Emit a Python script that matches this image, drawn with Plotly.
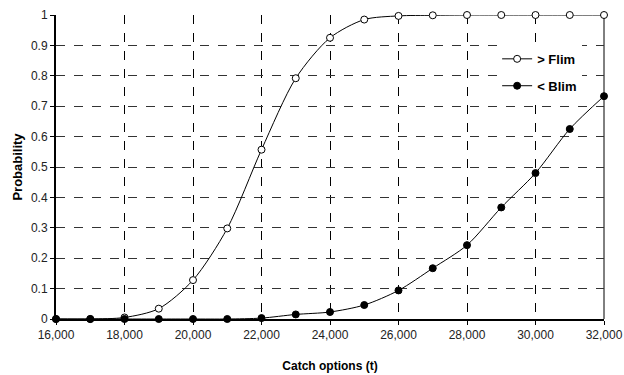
import plotly.graph_objects as go

catch = [16000, 17000, 18000, 19000, 20000, 21000, 22000, 23000, 24000,
         25000, 26000, 27000, 28000, 29000, 30000, 31000, 32000]
p_flim = [0.0, 0.0, 0.005, 0.034, 0.128, 0.298, 0.557, 0.792, 0.925,
          0.985, 0.997, 0.999, 1.0, 1.0, 1.0, 1.0, 1.0]
p_blim = [0.0, 0.0, 0.0, 0.0, 0.0, 0.0, 0.003, 0.015, 0.023,
          0.046, 0.094, 0.167, 0.243, 0.367, 0.48, 0.625, 0.733]

x_ticks = list(range(16000, 32001, 2000))
y_ticks = [0, 0.1, 0.2, 0.3, 0.4, 0.5, 0.6, 0.7, 0.8, 0.9, 1]
y_labels = ["0", "0.1", "0.2", "0.3", "0.4", "0.5", "0.6", "0.7", "0.8", "0.9", "1"]

FONT = "Liberation Sans, Arial, sans-serif"

fig = go.Figure()
fig.add_trace(go.Scatter(
    x=catch, y=p_flim, name="> Flim", mode="lines+markers", legendgroup="a",
    line=dict(color="black", width=1, shape="spline", smoothing=0.8),
    marker=dict(symbol="circle", size=7, color="white",
                line=dict(color="black", width=1)),
    cliponaxis=False,
))
fig.add_trace(go.Scatter(
    x=catch, y=p_blim, name="< Blim", mode="lines+markers", legendgroup="b",
    line=dict(color="black", width=1, shape="spline", smoothing=0.8),
    marker=dict(symbol="circle", size=7, color="black",
                line=dict(color="black", width=1)),
    cliponaxis=False,
))

fig.update_layout(
    width=624, height=375,
    margin=dict(l=56, r=20, t=15, b=56),
    paper_bgcolor="white", plot_bgcolor="white",
    font=dict(family=FONT, size=12, color="#222"),
    showlegend=True,
    legend=dict(x=0.805, y=0.905, xanchor="left", yanchor="top",
                bgcolor="white", borderwidth=0, traceorder="grouped",
                font=dict(size=13, color="black", family=FONT, weight="bold"),
                tracegroupgap=7, itemwidth=30),
    shapes=[dict(type="line", xref="paper", yref="paper", x0=1, x1=1, y0=0, y1=1,
                 line=dict(color="black", width=1), layer="below")],
)
fig.update_xaxes(
    range=[16000, 32000], tickvals=x_ticks, tickformat=",",
    showgrid=True, gridcolor="black", griddash="dash", gridwidth=1,
    showline=True, linecolor="black", linewidth=2,
    ticks="outside", ticklen=4, tickcolor="black",
    zeroline=False, automargin=False, ticklabeloverflow="allow",
    title=dict(text="<b>Catch options (t)</b>", font=dict(size=12, color="black"), standoff=20),
)
fig.update_yaxes(
    range=[0, 1], tickvals=y_ticks, ticktext=y_labels,
    showgrid=True, gridcolor="#333", griddash="dash", gridwidth=1,
    showline=True, linecolor="black", linewidth=2,
    ticks="outside", ticklen=4, tickcolor="black",
    zeroline=False, automargin=False,
    title=dict(text="<b>Probability</b>", font=dict(size=13, color="black"), standoff=5),
)

fig.write_html("out.html", config={"displayModeBar": False},
               post_script="document.body.style.margin='0';document.body.style.overflow='hidden';")
